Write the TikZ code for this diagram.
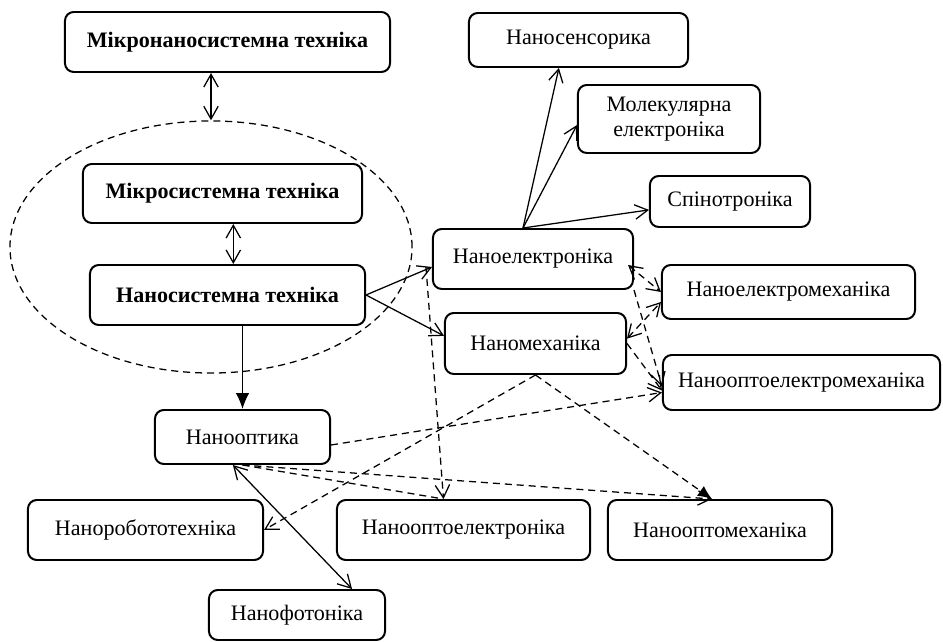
\documentclass[tikz,border=0pt]{standalone}
\usepackage{fontspec}
\setmainfont{Liberation Serif}
\usetikzlibrary{arrows.meta}
\usetikzlibrary{shapes.geometric}

\begin{document}
\begin{tikzpicture}[x=0.025cm,y=-0.025cm,line width=0.9pt,
  box/.style={draw,line width=1.4pt,rounded corners=0.22cm,align=center,inner sep=0pt,font=\fontsize{15.7}{17.5}\selectfont},
  bbox/.style={box,font=\fontsize{15.7}{17.5}\selectfont\bfseries},
  dsh/.style={dash pattern=on 5pt off 3.5pt},
  >={Straight Barb[length=3.2mm,width=3.6mm]}]
\useasboundingbox (0,0) rectangle (943,642);

\node[draw,dsh,ellipse,minimum width=10.05cm,minimum height=6.3cm,inner sep=0pt] (E) at (211,247) {};

\node[bbox,minimum width=8.125cm,minimum height=1.5cm] (MNS) at (227.5,42) {Мікронаносистемна техніка};
\node[bbox,minimum width=6.975cm,minimum height=1.475cm] (MS) at (222.5,193.5) {Мікросистемна техніка};
\node[bbox,minimum width=6.875cm,minimum height=1.5cm] (NS) at (227.5,295) {Наносистемна техніка};
\node[box,minimum width=5cm,minimum height=1.5cm] (NEl) at (533,259) {Наноелектроніка};
\node[box,minimum width=4.525cm,minimum height=1.525cm] (NMe) at (535.5,343.5) {Наномеханіка};
\node[box,minimum width=5.475cm,minimum height=1.35cm] (NSe) at (578.5,40) {Наносенсорика};
\node[box,minimum width=4.55cm,minimum height=1.7cm] (Mol) at (669,119) {Молекулярна\\електроніка};
\node[box,minimum width=4cm,minimum height=1.275cm] (Spin) at (730,201.5) {Спінотроніка};
\node[box,minimum width=6.325cm,minimum height=1.35cm] (NEM) at (788.5,292) {Наноелектромеханіка};
\node[box,minimum width=6.925cm,minimum height=1.375cm] (NOEM) at (801.5,382.5) {Нанооптоелектромеханіка};
\node[box,minimum width=4.375cm,minimum height=1.35cm] (NOp) at (242.5,437) {Нанооптика};
\node[box,minimum width=5.875cm,minimum height=1.5cm] (NRob) at (145.5,530) {Наноробототехніка};
\node[box,minimum width=6.325cm,minimum height=1.5cm] (NOEl) at (463.5,530) {Нанооптоелектроніка};
\node[box,minimum width=5.6cm,minimum height=1.5cm] (NOMe) at (720,530) {Нанооптомеханіка};
\node[box,minimum width=4.4cm,minimum height=1.25cm] (NPh) at (297,615) {Нанофотоніка};

\draw[<->] (E.north) -- (E.north |- MNS.south);
\draw[<->] ([xshift=0.27cm]MS.south) -- ([xshift=0.27cm]MS.south |- NS.north);
\draw[->] (NS.east) -- ([yshift=-0.2cm]NEl.west);
\draw[->] (NS.east) -- ([yshift=0.19cm]NMe.west);
\draw[-{Latex[length=4mm,width=3.4mm]}] (NOp.north |- NS.south) -- (NOp.north);
\draw[->] ([xshift=-0.25cm]NEl.north) -- ([xshift=-0.49cm]NSe.south);
\draw[->] ([xshift=-0.25cm]NEl.north) -- ([yshift=-0.15cm]Mol.west);
\draw[->] ([xshift=-0.25cm]NEl.north) -- ([yshift=-0.21cm]Spin.west);
\draw[<->] ([xshift=-0.24cm]NOp.south) -- ([xshift=1.375cm]NPh.north);

\draw[dsh,<->] ([xshift=-0.15cm,yshift=-0.15cm]NEl.east) -- (NEM.west);
\draw[dsh,<->] ([yshift=0.12cm]NMe.east) -- ([yshift=-0.25cm]NEM.west);
\draw[dsh,->] (NEl.south east) -- ([yshift=-0.1cm]NOEM.west);
\draw[dsh,->] (NMe.east) -- ([yshift=-0.2cm]NOEM.west);
\draw[dsh,->] ([yshift=-0.2cm]NOp.east) -- ([yshift=-0.25cm]NOEM.west);
\draw[dsh,->] (NMe.south) -- (NRob.east);
\draw[dsh,-{Latex[length=3.5mm,width=3mm]}] (NMe.south) -- ([xshift=-0.2cm]NOMe.north);
\draw[dsh,->] (NOp.south) -- ([xshift=-0.2cm]NOMe.north);
\draw[dsh] (NOp.south) -- ([xshift=-0.5cm]NOEl.north);
\draw[dsh,->] ([xshift=-0.15cm,yshift=-0.2cm]NEl.west) -- ([xshift=-0.5cm]NOEl.north);
\end{tikzpicture}
\end{document}
